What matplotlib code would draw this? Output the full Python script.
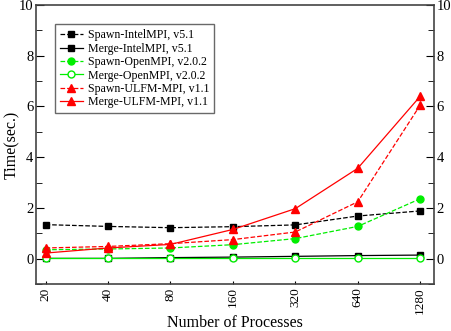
import numpy as np
import matplotlib.pyplot as plt
from matplotlib.ticker import MultipleLocator

plt.rcParams['font.family'] = ['Liberation Serif', 'DejaVu Serif']

# ------------------ Datos ------------------
procs = ["20", "40", "80", "160", "320", "640", "1280"]
spawn_intel = [1.34, 1.27, 1.22, 1.26, 1.33, 1.68, 1.88]
merge_intel = [0.01, 0.01, 0.04, 0.06, 0.09, 0.12, 0.14]
spawn_ompi = [0.35, 0.38, 0.42, 0.55, 0.79, 1.27, 2.36]
merge_ompi = [0.01, 0.01, 0.01, 0.01, 0.01, 0.01, 0.01]
spawn_ulfm = [0.42, 0.48, 0.59, 0.75, 1.05, 2.24, 6.05]
merge_ulfm = [0.22, 0.42, 0.56, 1.15, 1.97, 3.56, 6.40]

GREEN = '#00ee00'
RED = '#ff0000'

fig = plt.figure(figsize=(4.52, 3.31), dpi=100)
ax = fig.add_axes([0.080, 0.142, 0.880, 0.843])
x = np.arange(len(procs))

ax.plot(x, spawn_intel, '--s', color='black', lw=0.9, ms=4.5, label='Spawn-IntelMPI, v5.1')
ax.plot(x, merge_intel, '-s', color='black', lw=0.9, ms=4.5, label='Merge-IntelMPI, v5.1')
ax.plot(x, spawn_ompi, '--o', color=GREEN, lw=0.9, ms=5, label='Spawn-OpenMPI, v2.0.2')
ax.plot(x, merge_ompi, '-o', color=GREEN, mfc='white', lw=0.9, ms=5, label='Merge-OpenMPI, v2.0.2')
ax.plot(x, spawn_ulfm, '--^', color=RED, lw=0.9, ms=5.5, label='Spawn-ULFM-MPI, v1.1')
ax.plot(x, merge_ulfm, '-^', color=RED, lw=0.9, ms=5.5, label='Merge-ULFM-MPI, v1.1')

ax.set_xlim(-0.15, 6.22)
ax.set_ylim(-1, 10)
ax.set_xticks(x)
ax.set_xticklabels(procs, rotation=90, fontsize=9.5)
ax.yaxis.set_major_locator(MultipleLocator(2))
ax.yaxis.set_minor_locator(MultipleLocator(1))
ax.tick_params(axis='y', which='both', direction='in', right=True, labelright=True,
               labelsize=10.5, pad=2)
ax.tick_params(axis='y', which='major', length=6)
ax.tick_params(axis='y', which='minor', length=4)
ax.tick_params(axis='x', direction='in', length=2.5, pad=2.5)
ax.set_xlabel("Number of Processes", fontsize=11.5)
ax.set_ylabel("Time(sec.)", fontsize=11.5)
ax.xaxis.set_label_coords(0.5, -0.112)
ax.yaxis.set_label_coords(-0.040, 0.5)
for s in ax.spines.values():
    s.set_color('#444444')
    s.set_linewidth(1.2)

leg = ax.legend(loc='upper left', bbox_to_anchor=(0.048, 0.93), fontsize=8.6, frameon=True,
                fancybox=False, edgecolor='#444444', handlelength=1.9, labelspacing=0.12,
                borderpad=0.4, handletextpad=0.4, borderaxespad=0)
leg.get_frame().set_linewidth(1.0)

fig.savefig('out.png', dpi=100)
